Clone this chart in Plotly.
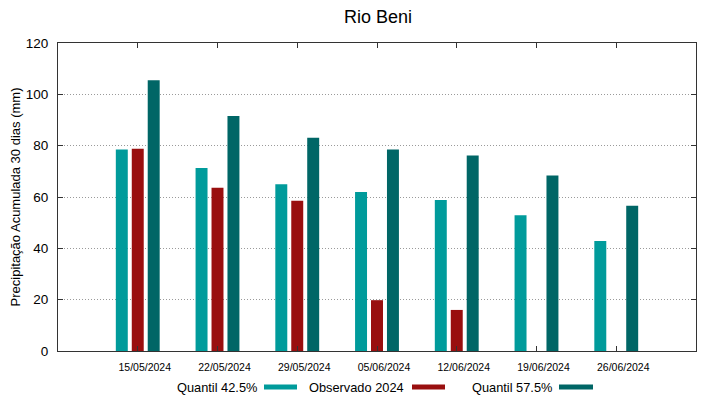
import plotly.graph_objects as go

dates = ["15/05/2024", "22/05/2024", "29/05/2024", "05/06/2024",
         "12/06/2024", "19/06/2024", "26/06/2024"]
q425 = [78.5, 71.3, 65.0, 61.9, 58.8, 52.9, 42.9]
obs2024 = [78.8, 63.6, 58.5, 19.8, 16.0, None, None]
q575 = [105.5, 91.6, 83.1, 78.5, 76.2, 68.4, 56.6]
series_names = ["Quantil 42.5%", "Observado 2024", "Quantil 57.5%"]
colors = ["#009b9b", "#990f0f", "#006666"]
y_ticks = [0, 20, 40, 60, 80, 100, 120]

FONT = "Liberation Sans, Arial, sans-serif"
OFF = 8  # default page body margin in the browser
W, H = 719 - OFF, 399 - OFF
# plot area in page pixels: x 58..696, y 43..351
L, T = 58 - OFF, 43 - OFF
R = W - (696 - OFF)
B = H - (351 - OFF)
pw = W - L - R
ph = H - T - B


def px_x(page_x):
    return (page_x - OFF - L) / pw


def px_y(page_y):
    return ((H - B) - (page_y - OFF)) / ph


fig = go.Figure()
xs = list(range(len(dates)))
for name, vals, col in zip(series_names, [q425, obs2024, q575], colors):
    fig.add_trace(go.Bar(x=xs, y=vals, name=name, marker_color=col,
                         marker_line_width=0, showlegend=False))

fig.update_layout(
    width=W, height=H,
    margin=dict(l=L, r=R, t=T, b=B, autoexpand=False),
    paper_bgcolor="white", plot_bgcolor="white",
    barmode="group", bargap=0.4, bargroupgap=0.25,
    font=dict(family=FONT, color="#000000"),
    title=dict(text="Rio Beni", x=(378 - OFF) / W, xanchor="center",
               y=1 - (17 - OFF) / H, yanchor="middle", automargin=False,
               font=dict(size=18, family=FONT, color="#000")),
)
fig.update_xaxes(
    range=[-1, 7], tickmode="array", tickvals=xs, ticktext=dates,
    tickfont=dict(size=10.5, family=FONT, color="#000"),
    ticks="inside", ticklen=5, tickcolor="#333", automargin=False,
    showline=True, linecolor="#333", linewidth=1, mirror="ticks",
    showgrid=False, zeroline=False, ticklabelshift=7, ticklabelstandoff=6,
)
fig.update_yaxes(
    range=[0, 120], tickmode="array", tickvals=y_ticks,
    tickfont=dict(size=13.5, family=FONT, color="#000"),
    ticks="inside", ticklen=5, tickcolor="#333", automargin=False,
    showline=True, linecolor="#333", linewidth=1, mirror="ticks",
    showgrid=True, gridcolor="#9a9a9a", griddash="1px,2px", gridwidth=1,
    zeroline=False, ticklabelstandoff=6,
    title=dict(text="Precipitação Acumulada 30 dias (mm)",
               font=dict(size=13, family=FONT, color="#000"), standoff=8),
)

# legend drawn gnuplot-style: text followed by sample swatch
leg = [(259, 264, 297), (406, 412, 445), (554, 559, 593)]
for (tx, s0, s1), name, col in zip(leg, series_names, colors):
    fig.add_annotation(xref="paper", yref="paper",
                       x=px_x(tx), y=px_y(387),
                       xanchor="right", yanchor="middle", showarrow=False,
                       text=name, font=dict(size=12.8, family=FONT, color="#000"))
    fig.add_shape(type="rect", xref="paper", yref="paper",
                  x0=px_x(s0), x1=px_x(s1),
                  y0=px_y(389.5), y1=px_y(384.5),
                  fillcolor=col, line_width=0)

fig.write_html("out.html")
